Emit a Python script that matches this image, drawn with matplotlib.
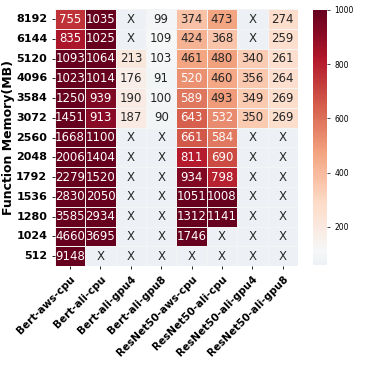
import numpy as np
import matplotlib
matplotlib.use('Agg')
import matplotlib.pyplot as plt
from matplotlib.colors import ListedColormap
import seaborn as sns

# --- Data ---
memory = ['8192', '6144', '5120', '4096', '3584', '3072', '2560',
          '2048', '1792', '1536', '1280', '1024', '512']
configs = ['Bert-aws-cpu', 'Bert-ali-cpu', 'Bert-ali-gpu4', 'Bert-ali-gpu8',
           'ResNet50-aws-cpu', 'ResNet50-ali-cpu', 'ResNet50-ali-gpu4',
           'ResNet50-ali-gpu8']
nan = np.nan
bert_aws_cpu = [755, 835, 1093, 1023, 1250, 1451, 1668, 2006, 2279, 2830, 3585, 4660, 9148]
bert_ali_cpu = [1035, 1025, 1064, 1014, 939, 913, 1100, 1404, 1520, 2050, 2934, 3695, nan]
bert_ali_gpu4 = [nan, nan, 213, 176, 190, 187, nan, nan, nan, nan, nan, nan, nan]
bert_ali_gpu8 = [99, 109, 103, 91, 100, 90, nan, nan, nan, nan, nan, nan, nan]
resnet_aws_cpu = [374, 424, 461, 520, 589, 643, 661, 811, 934, 1051, 1312, 1746, nan]
resnet_ali_cpu = [473, 368, 480, 460, 493, 532, 584, 690, 798, 1008, 1141, nan, nan]
resnet_ali_gpu4 = [nan, nan, 340, 356, 349, 350, nan, nan, nan, nan, nan, nan, nan]
resnet_ali_gpu8 = [274, 259, 261, 264, 269, 269, nan, nan, nan, nan, nan, nan, nan]

data = np.array([bert_aws_cpu, bert_ali_cpu, bert_ali_gpu4, bert_ali_gpu8,
                 resnet_aws_cpu, resnet_ali_cpu, resnet_ali_gpu4, resnet_ali_gpu8]).T
labels = np.where(np.isnan(data), 'X', np.nan_to_num(data).astype(int).astype(str))

# --- Colormap: upper part of RdBu_r ---
cmap = ListedColormap(plt.get_cmap('RdBu_r')(np.linspace(0.47, 1.0, 256)))

# --- Plotting ---
fig = plt.figure(figsize=(3.66, 3.66), dpi=100)
ax = fig.add_axes([0.150, 0.273, 0.664, 0.702])
cax = fig.add_axes([0.855, 0.276, 0.038, 0.697])
ax.set_facecolor('#edf1f5')

sns.heatmap(data, ax=ax, cbar_ax=cax, cmap=cmap, vmin=60, vmax=1000,
            annot=labels, fmt='', annot_kws={'fontsize': 8.5},
            linewidths=0.6, linecolor='#f4f4f4',
            xticklabels=configs, yticklabels=memory)

# X cells are masked by seaborn, label them by hand
for i in range(data.shape[0]):
    for j in range(data.shape[1]):
        if np.isnan(data[i, j]):
            ax.text(j + 0.5, i + 0.5, 'X', ha='center', va='center',
                    fontsize=8.5, color='#262626')

ax.set_ylabel('Function Memory(MB)', fontsize=9, fontweight='bold')
ax.yaxis.set_label_coords(-0.165, 0.5)
ax.set_yticklabels(memory, rotation=0, fontsize=8, fontweight='bold')
ax.set_xticklabels(configs, rotation=45, ha='right', rotation_mode='anchor',
                   fontsize=7.5, fontweight='bold')
ax.tick_params(axis='both', length=2, width=0.6)

cax.set_yticks([200, 400, 600, 800, 1000])
cax.tick_params(labelsize=5.5, length=2, width=0.5)

plt.savefig('out.png', dpi=100)
